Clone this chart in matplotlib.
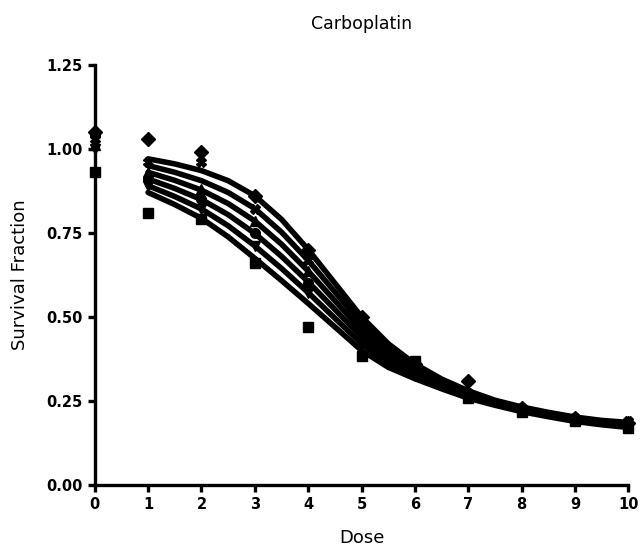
import matplotlib
matplotlib.use("Agg")
import matplotlib.pyplot as plt

# doses where the fitted curves were read, and the measured doses
curve_dose = [1, 1.5, 2, 2.5, 3, 3.5, 4, 4.5, 5, 5.5, 6, 6.5, 7, 7.5, 8, 8.5, 9, 9.5, 10]
point_dose = [0, 1, 2, 3, 4, 5, 6, 7, 8, 9, 10]

# fitted curves (top to bottom)
fit_a = [0.97, 0.955, 0.935, 0.905, 0.86, 0.79, 0.70, 0.60, 0.50, 0.42,
         0.36, 0.315, 0.28, 0.252, 0.232, 0.216, 0.202, 0.192, 0.186]
fit_b = [0.95, 0.93, 0.905, 0.87, 0.822, 0.752, 0.668, 0.574, 0.48, 0.405,
         0.352, 0.31, 0.275, 0.249, 0.229, 0.213, 0.2, 0.19, 0.183]
fit_c = [0.93, 0.906, 0.877, 0.837, 0.785, 0.716, 0.636, 0.548, 0.46, 0.39,
         0.343, 0.304, 0.27, 0.246, 0.226, 0.211, 0.197, 0.187, 0.18]
fit_d = [0.91, 0.882, 0.849, 0.804, 0.748, 0.68, 0.604, 0.522, 0.44, 0.376,
         0.334, 0.298, 0.266, 0.243, 0.223, 0.208, 0.194, 0.184, 0.177]
fit_e = [0.89, 0.858, 0.821, 0.771, 0.711, 0.644, 0.572, 0.496, 0.42, 0.363,
         0.325, 0.292, 0.262, 0.24, 0.221, 0.206, 0.192, 0.182, 0.174]
fit_f = [0.87, 0.834, 0.793, 0.738, 0.674, 0.608, 0.54, 0.47, 0.40, 0.35,
         0.316, 0.286, 0.258, 0.237, 0.218, 0.203, 0.189, 0.179, 0.171]

# measured survival fractions per series
pts_diamond = [1.05, 1.03, 0.99, 0.86, 0.70, 0.50, 0.36, 0.31, 0.23, 0.20, 0.185]
pts_x = [1.03, 0.96, 0.96, 0.82, 0.67, 0.48, 0.35, 0.275, 0.23, 0.20, 0.19]
pts_triangle = [1.01, 0.93, 0.88, 0.785, 0.635, 0.46, 0.34, 0.27, 0.225, 0.20, 0.18]
pts_circle = [1.04, 0.91, 0.85, 0.75, 0.60, 0.44, 0.33, 0.265, 0.22, 0.19, 0.18]
pts_tridown = [1.00, 0.89, 0.82, 0.71, 0.57, 0.42, 0.325, 0.26, 0.22, 0.19, 0.175]
pts_square = [0.93, 0.81, 0.79, 0.66, 0.47, 0.385, 0.37, 0.258, 0.218, 0.19, 0.17]

fits = [fit_a, fit_b, fit_c, fit_d, fit_e, fit_f]
points = [
    (pts_diamond, "D"),
    (pts_x, "X"),
    (pts_triangle, "^"),
    (pts_circle, "o"),
    (pts_tridown, "v"),
    (pts_square, "s"),
]

fig = plt.figure(figsize=(6.4, 5.53), dpi=100)
ax = fig.add_axes([0.148, 0.123, 0.834, 0.76])

for fit in fits:
    ax.plot(curve_dose, fit, color="black", lw=4, solid_capstyle="round",
            solid_joinstyle="round", zorder=2)

for vals, mk in points:
    ax.plot(point_dose, vals, linestyle="none", marker=mk, color="black",
            markersize=7, clip_on=False, zorder=3)

ax.set_xlim(0, 10)
ax.set_ylim(0, 1.25)
ax.set_xticks(range(0, 11))
ax.set_yticks([0.0, 0.25, 0.5, 0.75, 1.0, 1.25])
ax.set_yticklabels(["0.00", "0.25", "0.50", "0.75", "1.00", "1.25"])

for side in ["top", "right"]:
    ax.spines[side].set_visible(False)
for side in ["left", "bottom"]:
    ax.spines[side].set_linewidth(2.4)

ax.tick_params(direction="out", length=5, width=2.4, labelsize=10.5, pad=4)
for lbl in ax.get_xticklabels() + ax.get_yticklabels():
    lbl.set_fontweight("bold")

ax.set_title("Carboplatin", fontsize=12.5, pad=26)
ax.set_xlabel("Dose", fontsize=13, labelpad=12)
ax.set_ylabel("Survival Fraction", fontsize=13, labelpad=12)

plt.savefig("out.png", dpi=100)
plt.close()
